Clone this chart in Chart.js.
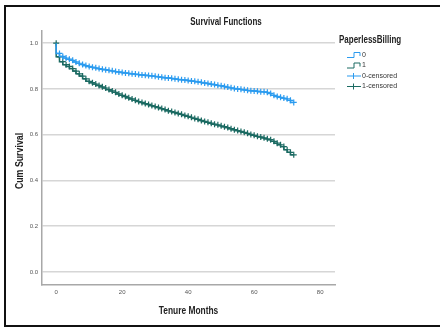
<!DOCTYPE html>
<html>
<head>
<meta charset="utf-8">
<script src="https://cdn.jsdelivr.net/npm/chart.js@4"></script>
<style>
  html, body { margin: 0; padding: 0; background: #fff; overflow: hidden; }
  canvas { display: block; }
</style>
</head>
<body>
<canvas id="chart" width="440" height="327"></canvas>
<script>
// Kaplan-Meier curves by PaperlessBilling, month by month
const months = [0, 1, 2, 3, 4, 5, 6, 7, 8, 9, 10, 11, 12, 13, 14, 15, 16, 17, 18, 19,
  20, 21, 22, 23, 24, 25, 26, 27, 28, 29, 30, 31, 32, 33, 34, 35, 36, 37, 38, 39,
  40, 41, 42, 43, 44, 45, 46, 47, 48, 49, 50, 51, 52, 53, 54, 55, 56, 57, 58, 59,
  60, 61, 62, 63, 64, 65, 66, 67, 68, 69, 70, 71, 72];

const survival0 = [1.000, 0.955, 0.942, 0.935, 0.930, 0.925, 0.918, 0.912, 0.907, 0.902,
  0.898, 0.895, 0.892, 0.889, 0.886, 0.884, 0.881, 0.879, 0.876, 0.874,
  0.872, 0.870, 0.868, 0.866, 0.865, 0.863, 0.861, 0.860, 0.858, 0.857,
  0.855, 0.853, 0.851, 0.849, 0.848, 0.846, 0.844, 0.842, 0.840, 0.839,
  0.837, 0.835, 0.833, 0.831, 0.829, 0.826, 0.824, 0.821, 0.819, 0.816,
  0.814, 0.811, 0.808, 0.805, 0.802, 0.800, 0.798, 0.796, 0.794, 0.792,
  0.791, 0.790, 0.788, 0.787, 0.785, 0.780, 0.772, 0.767, 0.763, 0.760,
  0.757, 0.750, 0.741];

const survival1 = [1.000, 0.940, 0.919, 0.906, 0.898, 0.889, 0.878, 0.866, 0.856, 0.844,
  0.833, 0.827, 0.821, 0.815, 0.809, 0.804, 0.797, 0.791, 0.785, 0.778,
  0.772, 0.767, 0.761, 0.756, 0.750, 0.745, 0.741, 0.736, 0.732, 0.727,
  0.723, 0.719, 0.714, 0.710, 0.705, 0.701, 0.697, 0.693, 0.689, 0.684,
  0.680, 0.676, 0.671, 0.667, 0.662, 0.658, 0.654, 0.650, 0.646, 0.643,
  0.639, 0.635, 0.631, 0.626, 0.622, 0.618, 0.614, 0.610, 0.606, 0.601,
  0.597, 0.593, 0.590, 0.586, 0.582, 0.578, 0.571, 0.563, 0.556, 0.548,
  0.534, 0.523, 0.512];

// months carrying a censored observation
const censored0 = [1, 2, 3, 4, 5, 6, 7, 8, 9, 10, 11, 12, 13, 14, 15, 16, 17, 18, 19, 20,
  21, 22, 23, 24, 25, 26, 27, 28, 29, 30, 31, 32, 33, 34, 35, 36, 37, 38, 39, 40,
  41, 42, 43, 44, 45, 46, 47, 48, 49, 50, 51, 52, 53, 54, 55, 56, 57, 58, 59, 60,
  61, 62, 63, 64, 65, 66, 67, 68, 69, 70, 71, 72];
const censored1 = [0, 1, 2, 3, 4, 5, 6, 7, 8, 9, 10, 11, 12, 13, 14, 15, 16, 17, 18, 19, 20,
  21, 22, 23, 24, 25, 26, 27, 28, 29, 30, 31, 32, 33, 34, 35, 36, 37, 38, 39, 40,
  41, 42, 43, 44, 45, 46, 47, 48, 49, 50, 51, 52, 53, 54, 55, 56, 57, 58, 59, 60,
  61, 62, 63, 64, 65, 66, 67, 68, 69, 70, 71, 72];

const xTicks = [0, 20, 40, 60, 80];
const yTicks = [0.0, 0.2, 0.4, 0.6, 0.8, 1.0];
const legendLabels = ["0", "1", "0-censored", "1-censored"];

const BLUE = "#2b9bef";
const TEAL = "#1b6a62";
const FONT = "'Liberation Sans', Arial, sans-serif";

function curve(surv) {
  return months.map((m, i) => ({ x: m, y: surv[i] }));
}
function marks(cens, surv) {
  return cens.map(m => ({ x: m, y: surv[months.indexOf(m)] }));
}

// squeezed bold text, like the narrow SPSS headings
function narrowText(ctx, text, x, y, size, align, angle) {
  ctx.save();
  ctx.translate(x, y);
  if (angle) ctx.rotate(angle);
  ctx.scale(0.8, 1);
  ctx.font = "bold " + size + "px " + FONT;
  ctx.textAlign = align;
  ctx.textBaseline = "middle";
  ctx.fillText(text, 0, 0);
  ctx.restore();
}

// frame, titles and legend
const decor = {
  id: "decor",
  beforeDraw(chart) {
    const ctx = chart.ctx;
    ctx.save();
    ctx.fillStyle = "#fff";
    ctx.fillRect(0, 0, chart.width, chart.height);
    ctx.restore();
  },
  afterDraw(chart) {
    const ctx = chart.ctx;
    const area = chart.chartArea;
    ctx.save();
    ctx.strokeStyle = "#111";
    ctx.lineWidth = 2;
    ctx.strokeRect(5, 6, 460, 320);

    ctx.fillStyle = "#222";
    narrowText(ctx, "Survival Functions", 226, 22, 10, "center");
    narrowText(ctx, "Tenure Months", (area.left + area.right) / 2, 311, 10.5, "center");
    narrowText(ctx, "Cum Survival", 20, 161, 11, "center", -Math.PI / 2);
    narrowText(ctx, "PaperlessBilling", 339, 40, 10, "left");

    ctx.font = "7px " + FONT;
    ctx.textAlign = "left";
    ctx.textBaseline = "middle";
    const colors = [BLUE, TEAL, BLUE, TEAL];
    legendLabels.forEach((lab, i) => {
      const y = 55 + i * 10.5;
      ctx.strokeStyle = colors[i];
      ctx.lineWidth = 1;
      ctx.beginPath();
      if (i < 2) {
        ctx.moveTo(347, y + 2.5);
        ctx.lineTo(354, y + 2.5);
        ctx.lineTo(354, y - 2.5);
        ctx.lineTo(360, y - 2.5);
        ctx.lineTo(360, y + 1);
      } else {
        ctx.moveTo(347, y);
        ctx.lineTo(361, y);
        ctx.moveTo(353.5, y - 3);
        ctx.lineTo(353.5, y + 3);
      }
      ctx.stroke();
      ctx.fillStyle = "#333";
      ctx.fillText(lab, 362, y);
    });
    ctx.restore();
  }
};

new Chart(document.getElementById("chart"), {
  type: "scatter",
  data: {
    datasets: [
      {
        label: "0",
        data: curve(survival0),
        showLine: true,
        stepped: "after",
        borderColor: BLUE,
        borderWidth: 1.5,
        pointRadius: 0
      },
      {
        label: "1",
        data: curve(survival1),
        showLine: true,
        stepped: "after",
        borderColor: TEAL,
        borderWidth: 1.5,
        pointRadius: 0
      },
      {
        label: "0-censored",
        data: marks(censored0, survival0),
        showLine: false,
        pointStyle: "cross",
        pointRadius: 3,
        pointBorderWidth: 1.2,
        borderColor: BLUE,
        backgroundColor: BLUE
      },
      {
        label: "1-censored",
        data: marks(censored1, survival1),
        showLine: false,
        pointStyle: "cross",
        pointRadius: 3,
        pointBorderWidth: 1.2,
        borderColor: TEAL,
        backgroundColor: TEAL
      }
    ]
  },
  options: {
    responsive: false,
    animation: false,
    layout: { padding: { top: 31, right: 105, bottom: 0, left: 0 } },
    plugins: {
      legend: { display: false },
      title: { display: false },
      tooltip: { enabled: false }
    },
    scales: {
      x: {
        type: "linear",
        min: -4.3,
        max: 84.5,
        afterBuildTicks: s => { s.ticks = xTicks.map(v => ({ value: v })); },
        afterFit: s => { s.height = 42; },
        grid: { display: false, drawTicks: false },
        border: { display: true, color: "#a8a8a8", width: 1.5 },
        ticks: {
          padding: 4,
          color: "#555",
          font: { family: FONT, size: 6 },
          maxRotation: 0
        }
      },
      y: {
        type: "linear",
        min: -0.057,
        max: 1.053,
        afterBuildTicks: s => { s.ticks = yTicks.map(v => ({ value: v })); },
        afterFit: s => { s.width = 42; },
        grid: { color: "#d6d6d6", lineWidth: 1.5, drawTicks: false },
        border: { display: true, color: "#a8a8a8", width: 1.5 },
        ticks: {
          padding: 4,
          color: "#555",
          font: { family: FONT, size: 6 },
          callback: v => v.toFixed(1)
        }
      }
    }
  },
  plugins: [decor]
});
</script>
</body>
</html>
